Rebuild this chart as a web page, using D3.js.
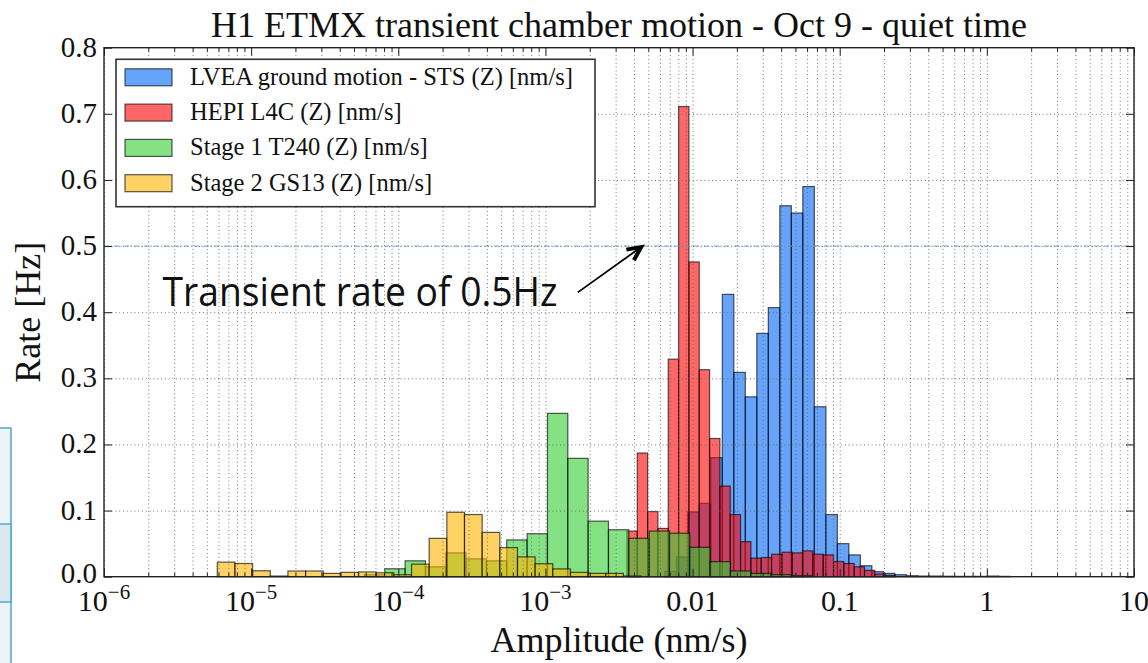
<!DOCTYPE html>
<html>
<head>
<meta charset="utf-8">
<script src="https://cdn.jsdelivr.net/npm/d3@7"></script>
<style>
  body { margin: 0; background: #fff; }
  svg { display: block; }
  text { font-family: "Liberation Serif", "Times New Roman", serif; fill: #111; }
</style>
</head>
<body>
<div id="chart-area"></div>
<script>
// rate per log-spaced amplitude bin (Hz)
let seriesNames = [
  "LVEA ground motion - STS (Z) [nm/s]",
  "HEPI L4C (Z) [nm/s]",
  "Stage 1 T240 (Z) [nm/s]",
  "Stage 2 GS13 (Z) [nm/s]"
]
let stsRate = [0.008, 0.03, 0.098, 0.111, 0.18, 0.427, 0.309, 0.272, 0.368, 0.407, 0.561, 0.55, 0.59,
  0.257, 0.094, 0.05, 0.033, 0.0166, 0.0076, 0.005, 0.003, 0.0015, 0.001, 0.001, 0.0007, 0.0005,
  0.0005, 0.0005, 0.001, 0.0005]
let l4cRate = [0.069, 0.187, 0.0985, 0.073, 0.329, 0.711, 0.476, 0.313, 0.209, 0.137, 0.094, 0.053,
  0.028, 0.029, 0.034, 0.037, 0.036, 0.039, 0.034, 0.033, 0.023, 0.020, 0.015, 0.0096, 0.004, 0.002]
let t240Rate = [0.003, 0.012, 0.024, 0.015, 0.036, 0.027, 0.024, 0.0556, 0.065, 0.247, 0.179, 0.084,
  0.071, 0.058, 0.069, 0.0657, 0.0444, 0.0227, 0.0086, 0.005, 0.003, 0.0015]
let gs13Rate = [0.022, 0.020, 0.009, 0.001, 0.0086, 0.0086, 0.005, 0.0066, 0.0072, 0.006, 0.003, 0.019,
  0.058, 0.0975, 0.094, 0.067, 0.044, 0.030, 0.0196, 0.0118, 0.0066, 0.005, 0.005, 0.001]

// first bin edge and bin width, log10(nm/s)
let binStartLog = [-2.189, -2.446, -4.230, -5.230]
let binStepLog = [0.0782, 0.0702, 0.1382, 0.1200]

let xTicks = [1e-6, 1e-5, 1e-4, 1e-3, 1e-2, 1e-1, 1, 10]
let xTickLabels = [["10", "\u22126"], ["10", "\u22125"], ["10", "\u22124"], ["10", "\u22123"],
  ["0.01"], ["0.1"], ["1"], ["10"]]
let yTicks = [0, 0.1, 0.2, 0.3, 0.4, 0.5, 0.6, 0.7, 0.8]

let seriesRates = [stsRate, l4cRate, t240Rate, gs13Rate]
let seriesColors = ["#0067fa", "#ff0000", "#32cd32", "#ffb400"]

let margin = { top: 47.7, right: 14, bottom: 86.3, left: 104 }
let canvasWidth = 1148 - margin.left - margin.right
let canvasHeight = 663 - margin.top - margin.bottom

let svg = d3.select("#chart-area").append("svg")
  .attr("width", 1148)
  .attr("height", 663)

// piece of the slide table peeking in at the left edge
svg.append("rect").attr("x", -2).attr("y", 428).attr("width", 13).attr("height", 240)
  .attr("fill", "#eef3f8").attr("stroke", "#4bacc6").attr("stroke-width", 1.5)
svg.append("rect").attr("x", -2).attr("y", 524).attr("width", 13).attr("height", 78)
  .attr("fill", "#dce8f0").attr("stroke", "#4bacc6").attr("stroke-width", 1.5)

let g = svg.append("g")
  .attr("transform", "translate(" + margin.left + ", " + margin.top + ")")

let x = d3.scaleLog().domain([1e-6, 10]).range([0, canvasWidth])
let y = d3.scaleLinear().domain([0, 0.8]).range([canvasHeight, 0])

let minorTicks = []
for (let d = -6; d <= 0; d++) {
  for (let k = 2; k <= 9; k++) minorTicks.push(k * Math.pow(10, d))
}

// bars: blue, red, green, yellow, later ones on top
seriesRates.forEach((rates, i) => {
  let bins = rates.map((r, j) => ({
    lo: Math.pow(10, binStartLog[i] + j * binStepLog[i]),
    hi: Math.pow(10, binStartLog[i] + (j + 1) * binStepLog[i]),
    rate: r
  }))
  g.append("g").selectAll("rect")
    .data(bins)
    .enter()
    .append("rect")
      .attr("x", b => x(b.lo))
      .attr("width", b => x(b.hi) - x(b.lo))
      .attr("y", b => y(b.rate))
      .attr("height", b => canvasHeight - y(b.rate))
      .attr("fill", seriesColors[i])
      .attr("fill-opacity", 0.6)
      .attr("stroke", "#000")
      .attr("stroke-opacity", 0.65)
      .attr("stroke-width", 1.2)
})

// dotted grid on top of the bars
let gridX = g.append("g").attr("transform", "translate(0," + canvasHeight + ")")
  .call(d3.axisBottom(x).tickValues(xTicks.concat(minorTicks)).tickSize(-canvasHeight).tickFormat(""))
let gridY = g.append("g")
  .call(d3.axisLeft(y).tickValues(yTicks.slice(1, -1)).tickSize(-canvasWidth).tickFormat(""))
;[gridX, gridY].forEach(a => {
  a.select(".domain").remove()
  a.selectAll("line").attr("stroke", "#666").attr("stroke-width", 0.9).attr("stroke-dasharray", "1,2.8")
})

// 0.5 Hz reference line
g.append("line")
  .attr("x1", 0).attr("x2", canvasWidth)
  .attr("y1", y(0.5)).attr("y2", y(0.5))
  .attr("stroke", "#6f9fd0").attr("stroke-width", 1)
  .attr("stroke-dasharray", "5,2,1,2")

// inward ticks on all four sides
let tickAxes = [
  [d3.axisBottom(x), "translate(0," + canvasHeight + ")", xTicks, minorTicks],
  [d3.axisTop(x), "translate(0,0)", xTicks, minorTicks],
  [d3.axisLeft(y), "translate(0,0)", yTicks, []],
  [d3.axisRight(y), "translate(" + canvasWidth + ",0)", yTicks, []]
]
tickAxes.forEach(([axis, tr, major, minor]) => {
  let a1 = g.append("g").attr("transform", tr)
    .call(axis.tickValues(major).tickSize(-8).tickFormat(""))
  a1.select(".domain").remove()
  if (minor.length) {
    let a2 = g.append("g").attr("transform", tr)
      .call(axis.tickValues(minor).tickSize(-4).tickFormat(""))
    a2.select(".domain").remove()
  }
})
g.selectAll(".tick line").filter(function () { return !this.getAttribute("stroke-dasharray") })
  .attr("stroke", "#222").attr("stroke-width", 1)

g.append("rect")
  .attr("width", canvasWidth).attr("height", canvasHeight)
  .attr("fill", "none").attr("stroke", "#222").attr("stroke-width", 1.4)

// tick labels
g.selectAll(".ylab")
  .data(yTicks)
  .enter()
  .append("text")
    .attr("x", -7)
    .attr("y", d => y(d) + (d === 0 ? 6 : 9))
    .attr("text-anchor", "end")
    .attr("font-size", 29)
    .text(d => d.toFixed(1))

xTicks.forEach((v, i) => {
  let t = g.append("text")
    .attr("x", x(v))
    .attr("y", canvasHeight + 34)
    .attr("text-anchor", "middle")
    .attr("font-size", 30)
  t.append("tspan").text(xTickLabels[i][0])
  if (xTickLabels[i][1]) {
    t.append("tspan").attr("dy", -12).attr("font-size", 21).text(xTickLabels[i][1])
  }
})

// titles
svg.append("text")
  .attr("x", margin.left + canvasWidth / 2)
  .attr("y", 37)
  .attr("text-anchor", "middle")
  .attr("font-size", 36)
  .text("H1 ETMX transient chamber motion - Oct 9 - quiet time")

svg.append("text")
  .attr("x", margin.left + canvasWidth / 2)
  .attr("y", 652)
  .attr("text-anchor", "middle")
  .attr("font-size", 36)
  .text("Amplitude (nm/s)")

svg.append("text")
  .attr("transform", "translate(40," + (margin.top + y(0.4)) + ") rotate(-90)")
  .attr("text-anchor", "middle")
  .attr("font-size", 36)
  .text("Rate [Hz]")

// legend
let legend = g.append("g").attr("transform", "translate(12, 11.6)")
legend.append("rect")
  .attr("width", 479).attr("height", 147.4)
  .attr("fill", "#fff").attr("stroke", "#333").attr("stroke-width", 1.6)
seriesNames.forEach((name, i) => {
  let row = legend.append("g").attr("transform", "translate(9," + (9.5 + i * 35.3) + ")")
  row.append("rect")
    .attr("width", 47).attr("height", 17)
    .attr("fill", seriesColors[i]).attr("fill-opacity", 0.6)
    .attr("stroke", "#000").attr("stroke-opacity", 0.65).attr("stroke-width", 1.2)
  row.append("text")
    .attr("x", 65).attr("y", 16)
    .attr("font-size", 24.5)
    .text(name)
})

// slide annotation
g.append("text")
  .attr("x", x(2.5e-6))
  .attr("y", y(0.41))
  .attr("font-size", 41)
  .attr("textLength", 395)
  .attr("lengthAdjust", "spacingAndGlyphs")
  .style("font-family", "'Open Sans', 'Noto Sans', sans-serif")
  .text("Transient rate of 0.5Hz")

let tail = [x(0.00166), y(0.43)]
let tip = [x(0.00447), y(0.5) + 1]
g.append("line")
  .attr("x1", tail[0]).attr("y1", tail[1]).attr("x2", tip[0]).attr("y2", tip[1])
  .attr("stroke", "#000").attr("stroke-width", 1.8)
let ang = Math.atan2(tip[1] - tail[1], tip[0] - tail[0])
let head = [ang + Math.PI - 0.45, ang + Math.PI + 0.45].map(a => [tip[0] + 15 * Math.cos(a), tip[1] + 15 * Math.sin(a)])
g.append("path")
  .attr("d", d3.line()([head[0], tip, head[1]]))
  .attr("fill", "none").attr("stroke", "#000").attr("stroke-width", 4)
  .attr("stroke-linejoin", "miter")
</script>
</body>
</html>
